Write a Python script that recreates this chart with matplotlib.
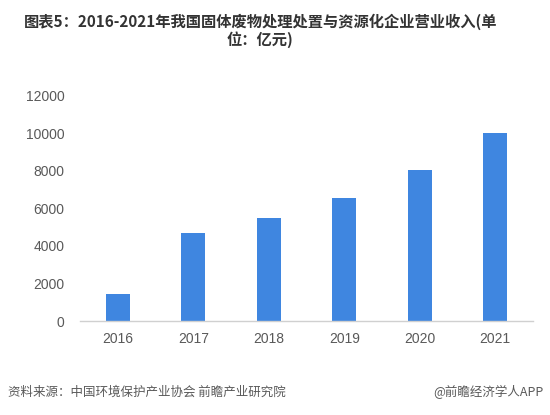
import matplotlib
matplotlib.use("Agg")
import matplotlib.pyplot as plt

plt.rcParams["font.family"] = ["Noto Sans CJK SC", "DejaVu Sans"]

years = ["2016", "2017", "2018", "2019", "2020", "2021"]
revenue = [1430, 4680, 5480, 6540, 8040, 10000]
yticks = [0, 2000, 4000, 6000, 8000, 10000, 12000]

title = "图表5：2016-2021年我国固体废物处理处置与资源化企业营业收入(单\n位：亿元)"
source = "资料来源：中国环境保护产业协会 前瞻产业研究院"
brand = "@前瞻经济学人APP"

bar_color = "#3f86e0"
text_gray = "#595959"

fig = plt.figure(figsize=(5.5, 4.15), dpi=100)
ax = fig.add_axes([0.1455, 0.2265, 0.8235, 0.5425])

x = range(len(years))
ax.bar(x, revenue, width=0.32, color=bar_color, zorder=2)

ax.set_xlim(-0.5, len(years) - 0.5)
ax.set_ylim(0, 12000)
ax.set_xticks(list(x))
ax.set_xticklabels(years, fontfamily="Liberation Sans", fontsize=10, color=text_gray)
ax.set_yticks(yticks)
ax.set_yticklabels([str(v) for v in yticks], fontfamily="Liberation Sans",
                   fontsize=10, color=text_gray)
ax.tick_params(axis="both", length=0, pad=8)
ax.tick_params(axis="y", pad=11)

for side in ["top", "right", "left"]:
    ax.spines[side].set_visible(False)
ax.spines["bottom"].set_color("#d0d0d0")
ax.spines["bottom"].set_linewidth(1.0)

fig.text(0.473, 0.925, title, ha="center", va="center", fontsize=11,
         fontweight="bold", color="#333333", linespacing=1.1)
fig.text(0.015, 0.055, source, ha="left", va="center", fontsize=9, color=text_gray)
fig.text(0.988, 0.055, brand, ha="right", va="center", fontsize=9, color=text_gray)

fig.savefig("out.png", dpi=100)
